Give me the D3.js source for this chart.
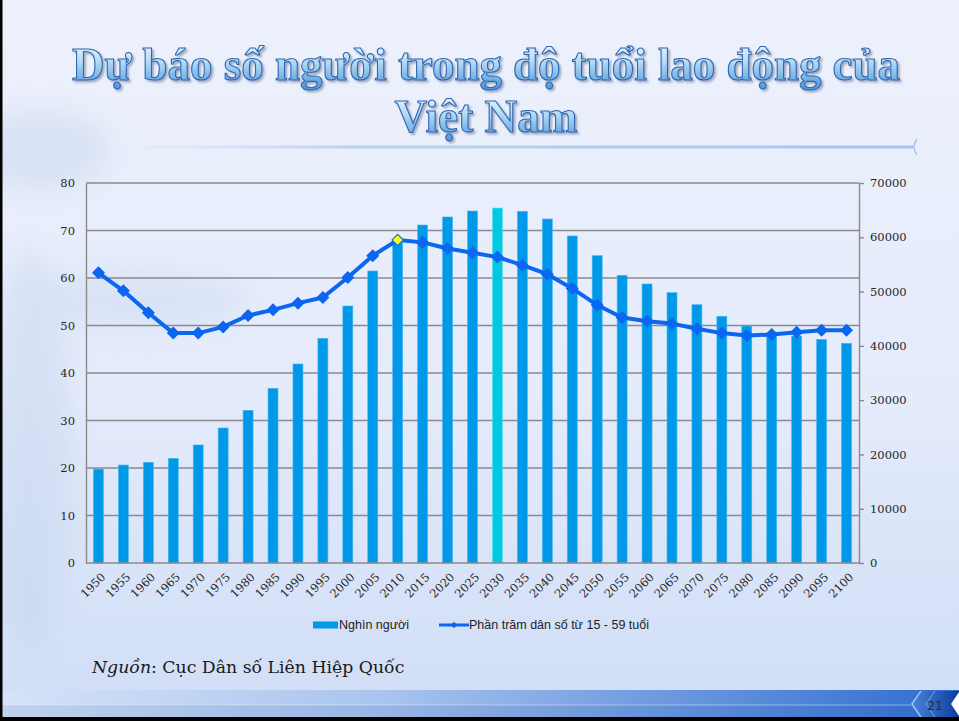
<!DOCTYPE html>
<html>
<head>
<meta charset="utf-8">
<script src="https://cdn.jsdelivr.net/npm/d3@7"></script>
<style>
  html, body { margin: 0; padding: 0; background: #e9eefb; overflow: hidden; }
</style>
</head>
<body>
<div id="chart"></div>
<script>
/**
 * DATA
 * */
const years = ["1950","1955","1960","1965","1970","1975","1980","1985","1990","1995","2000",
  "2005","2010","2015","2020","2025","2030","2035","2040","2045","2050","2055","2060",
  "2065","2070","2075","2080","2085","2090","2095","2100"];

// Nghìn người (right axis)
const workers = [17300, 18050, 18550, 19280, 21740, 24870, 28130, 32180, 36660, 41390, 47340,
  53790, 59000, 62260, 63740, 64840, 65390, 64790, 63370, 60240, 56610, 53000, 51400,
  49800, 47580, 45450, 43660, 42400, 41800, 41200, 40470];

// Phần trăm dân số từ 15 - 59 tuổi (left axis)
const percent = [61.1, 57.3, 52.7, 48.4, 48.4, 49.7, 52.1, 53.3, 54.7, 55.9, 60.1,
  64.7, 68.0, 67.5, 66.2, 65.3, 64.4, 62.7, 60.8, 57.8, 54.3, 51.7, 50.9,
  50.4, 49.3, 48.4, 47.9, 48.1, 48.6, 49.0, 49.0];

const leftTicks = [0, 10, 20, 30, 40, 50, 60, 70, 80];
const rightTicks = [0, 10000, 20000, 30000, 40000, 50000, 60000, 70000];

const seriesNames = ["Nghìn người", "Phần trăm dân số từ 15 - 59 tuổi"];
const highlightBar = "2030";
const highlightPoint = "2010";

/**
 * CONSTANTS
 * */
const width = 959, height = 721;
const plot = { left: 86, right: 859, top: 183, bottom: 563 };
const barColor = "#0099e9", barHi = "#00c9e4", lineColor = "#0b66f0";
const gridColor = "#8a8a8a";
const axisFont = "'DejaVu Serif', serif";

const svg = d3.select("#chart").append("svg")
  .attr("width", width)
  .attr("height", height);

const defs = svg.append("defs");

// background
const bg = defs.append("linearGradient").attr("id", "bg")
  .attr("x1", 0).attr("y1", 0).attr("x2", 0).attr("y2", 1);
bg.append("stop").attr("offset", "0%").attr("stop-color", "#edf1fc");
bg.append("stop").attr("offset", "55%").attr("stop-color", "#e4ebfb");
bg.append("stop").attr("offset", "100%").attr("stop-color", "#cfddf6");
svg.append("rect").attr("width", width).attr("height", height).attr("fill", "url(#bg)");

// faint tree shapes at left
const blur = defs.append("filter").attr("id", "blur");
blur.append("feGaussianBlur").attr("stdDeviation", 14);
const tree = svg.append("g").attr("filter", "url(#blur)").attr("opacity", 0.35);
tree.append("ellipse").attr("cx", 40).attr("cy", 150).attr("rx", 70).attr("ry", 40).attr("fill", "#b9cbe8");
tree.append("ellipse").attr("cx", 130).attr("cy", 300).attr("rx", 120).attr("ry", 30).attr("fill", "#c3d3ee");
tree.append("ellipse").attr("cx", 30).attr("cy", 450).attr("rx", 40).attr("ry", 200).attr("fill", "#bccde9");

/**
 * TITLE
 * */
const tg = defs.append("linearGradient").attr("id", "titleFill")
  .attr("x1", 0).attr("y1", 0).attr("x2", 0).attr("y2", 1);
tg.append("stop").attr("offset", "0%").attr("stop-color", "#f4fcff");
tg.append("stop").attr("offset", "45%").attr("stop-color", "#b3dbf6");
tg.append("stop").attr("offset", "100%").attr("stop-color", "#4a94da");

const shadow = defs.append("filter").attr("id", "shadow")
  .attr("x", "-5%").attr("y", "-20%").attr("width", "110%").attr("height", "150%");
shadow.append("feDropShadow").attr("dx", 2).attr("dy", 2).attr("stdDeviation", 0.8)
  .attr("flood-color", "#6d7f9c").attr("flood-opacity", 0.6);

const titleLines = [
  { text: "Dự báo số người trong độ tuổi lao động của", y: 80, len: 828 },
  { text: "Việt Nam", y: 132, len: 183 }
];
svg.append("g")
  .selectAll("text")
  .data(titleLines)
  .join("text")
  .attr("x", 486).attr("y", d => d.y)
  .attr("text-anchor", "middle")
  .attr("textLength", d => d.len).attr("lengthAdjust", "spacingAndGlyphs")
  .style("font", "bold 46px 'Liberation Serif', serif")
  .attr("fill", "url(#titleFill)")
  .attr("stroke", "#2f66b0").attr("stroke-width", 1.1)
  .attr("filter", "url(#shadow)")
  .text(d => d.text);

// line under title
const ul = defs.append("linearGradient").attr("id", "ul");
ul.append("stop").attr("offset", "0%").attr("stop-color", "#c9d9f6").attr("stop-opacity", 0);
ul.append("stop").attr("offset", "30%").attr("stop-color", "#bcd0f4");
ul.append("stop").attr("offset", "100%").attr("stop-color", "#a9c3f0");
svg.append("rect").attr("x", 110).attr("y", 145.5).attr("width", 803).attr("height", 3).attr("fill", "url(#ul)");
svg.append("path").attr("d", "M917,139 Q911,147 917,155")
  .attr("fill", "none").attr("stroke", "#a9c3f0").attr("stroke-width", 1.5);

/**
 * SCALES
 * */
const x = d3.scaleBand()
  .domain(years)
  .range([plot.left, plot.right])
  .paddingInner(0.6)
  .paddingOuter(0.3);

const yL = d3.scaleLinear().domain([0, 80]).range([plot.bottom, plot.top]);
const yR = d3.scaleLinear().domain([0, 70000]).range([plot.bottom, plot.top]);

// gridlines
svg.append("g")
  .selectAll("line")
  .data(leftTicks.filter(d => d > 0))
  .join("line")
  .attr("x1", plot.left).attr("x2", plot.right)
  .attr("y1", d => yL(d)).attr("y2", d => yL(d))
  .attr("stroke", gridColor).attr("stroke-width", 1.4);

// bars
svg.append("g")
  .selectAll("rect")
  .data(years)
  .join("rect")
  .attr("x", d => x(d))
  .attr("width", x.bandwidth())
  .attr("y", (d, i) => yR(workers[i]))
  .attr("height", (d, i) => plot.bottom - yR(workers[i]))
  .attr("fill", d => d === highlightBar ? barHi : barColor)
  .attr("stroke", d => d === highlightBar ? "#5fe0f0" : "#45b6f0")
  .attr("stroke-width", 0.6);

// axes
const leftAxis = svg.append("g")
  .attr("transform", `translate(${plot.left},0)`)
  .call(d3.axisLeft(yL).tickValues(leftTicks).tickSize(0).tickPadding(11));
leftAxis.select(".domain").attr("stroke", gridColor).attr("stroke-width", 1.4);

const rightAxis = svg.append("g")
  .attr("transform", `translate(${plot.right},0)`)
  .call(d3.axisRight(yR).tickValues(rightTicks).tickSize(5).tickPadding(6).tickFormat(d3.format("d")).tickSizeOuter(0));
rightAxis.select(".domain").attr("stroke", gridColor).attr("stroke-width", 1.4);
rightAxis.selectAll(".tick line").attr("stroke", gridColor).attr("stroke-width", 1.4);

[leftAxis, rightAxis].forEach(a => a.selectAll("text")
  .style("font-family", axisFont).style("font-size", "11.5px").attr("fill", "#262626"));

// bottom axis
svg.append("line")
  .attr("x1", plot.left).attr("x2", plot.right)
  .attr("y1", plot.bottom).attr("y2", plot.bottom)
  .attr("stroke", gridColor).attr("stroke-width", 1.4);

svg.append("g")
  .selectAll("text")
  .data(years)
  .join("text")
  .attr("transform", d => `translate(${x(d) + x.bandwidth() / 2 + 2},${plot.bottom + 9}) rotate(-45)`)
  .attr("text-anchor", "end")
  .attr("dy", "0.7em")
  .style("font-family", axisFont).style("font-size", "11.5px")
  .attr("fill", "#262626")
  .text(d => d);

// line
const cx = d => x(d) + x.bandwidth() / 2;
const line = d3.line()
  .x(d => cx(d))
  .y((d, i) => yL(percent[i]));

svg.append("path")
  .datum(years)
  .attr("d", line)
  .attr("fill", "none")
  .attr("stroke", lineColor)
  .attr("stroke-width", 4)
  .attr("stroke-linejoin", "round");

const marker = d3.symbol(d3.symbolSquare, 64);
svg.append("g")
  .selectAll("path")
  .data(years)
  .join("path")
  .attr("d", marker)
  .attr("transform", (d, i) => `translate(${cx(d)},${yL(percent[i])}) rotate(45)`)
  .attr("fill", d => d === highlightPoint ? "#ffff00" : lineColor)
  .attr("stroke", d => d === highlightPoint ? "#1a6fe8" : lineColor)
  .attr("stroke-width", 1.2);

/**
 * LEGEND
 * */
const legend = svg.append("g").style("font", "12.5px 'Liberation Sans', Arial, sans-serif");
legend.append("rect").attr("x", 313).attr("y", 621.5).attr("width", 25).attr("height", 7).attr("fill", barColor);
legend.append("text").attr("x", 339).attr("y", 628.5).attr("fill", "#1e1e1e").text(seriesNames[0]);
legend.append("line").attr("x1", 439).attr("x2", 469).attr("y1", 625).attr("y2", 625)
  .attr("stroke", lineColor).attr("stroke-width", 3);
legend.append("path").attr("d", d3.symbol(d3.symbolSquare, 22))
  .attr("transform", "translate(454,625) rotate(45)").attr("fill", lineColor);
legend.append("text").attr("x", 469).attr("y", 628.5).attr("fill", "#1e1e1e").text(seriesNames[1]);

// source
const src = svg.append("text").attr("x", 92).attr("y", 673)
  .style("font", "17.3px 'DejaVu Serif', serif").attr("fill", "#1a1a1a");
src.append("tspan").style("font-style", "italic").text("Nguồn");
src.append("tspan").text(": Cục Dân số Liên Hiệp Quốc");

/**
 * FOOTER BAND
 * */
const band = defs.append("linearGradient").attr("id", "band");
band.append("stop").attr("offset", "0%").attr("stop-color", "#d6e3f8");
band.append("stop").attr("offset", "40%").attr("stop-color", "#a9c4ee");
band.append("stop").attr("offset", "100%").attr("stop-color", "#2e6ccf");
svg.append("rect").attr("x", 0).attr("y", 690).attr("width", width).attr("height", 27).attr("fill", "url(#band)");
svg.append("rect").attr("x", 0).attr("y", 705).attr("width", width).attr("height", 12).attr("fill", "#1f4fa8").attr("opacity", 0.12);
svg.append("line").attr("x1", 0).attr("x2", width).attr("y1", 705).attr("y2", 705)
  .attr("stroke", "#e4edfc").attr("stroke-opacity", 0.5).attr("stroke-width", 1);

// page number tab
const tab = defs.append("linearGradient").attr("id", "tab");
tab.append("stop").attr("offset", "0%").attr("stop-color", "#4b86de");
tab.append("stop").attr("offset", "100%").attr("stop-color", "#0c3c9c");
svg.append("polygon").attr("points", "919,691 959,691 959,717 919,717 910,704")
  .attr("fill", "url(#tab)");
svg.append("polyline").attr("points", "921,691 912,704 921,717")
  .attr("fill", "none").attr("stroke", "#b8d0f6").attr("stroke-width", 1.2);
svg.append("polyline").attr("points", "935,691 926,704 935,717")
  .attr("fill", "none").attr("stroke", "#7aa2e6").attr("stroke-width", 1);
svg.append("polygon").attr("points", "959,692 951,704 959,716").attr("fill", "#ffffff");
svg.append("text").attr("x", 935).attr("y", 710).attr("text-anchor", "middle")
  .style("font", "12px 'DejaVu Sans', sans-serif").attr("fill", "#2b2b2b").text("21");

// slide edges
svg.append("rect").attr("x", 0).attr("y", 717).attr("width", width).attr("height", 4).attr("fill", "#000");
svg.append("rect").attr("x", 0).attr("y", 0).attr("width", 2.5).attr("height", height).attr("fill", "#000");
</script>
</body>
</html>
